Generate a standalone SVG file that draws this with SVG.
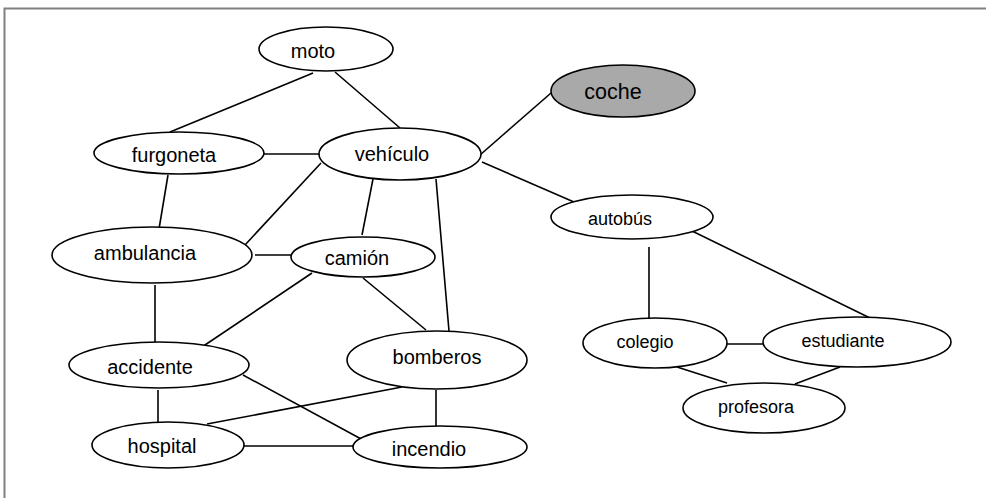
<svg xmlns="http://www.w3.org/2000/svg" width="986" height="498" viewBox="0 0 986 498">
<style>
.n ellipse{fill:#fff;stroke:#000;stroke-width:1.6}
.n text{font-family:"Liberation Sans",Arial,sans-serif;font-size:20px;text-anchor:middle;fill:#000}
.n text.s{font-size:18px}
#coche ellipse{fill:#a9a9a9}
#coche text{font-size:21.5px}
.e line{stroke:#000;stroke-width:1.6}
</style>
<rect width="986" height="498" fill="#fff"/>
<path d="M4.5 498 V8.5 H986" fill="none" stroke="#808080" stroke-width="2"/>
<g class="e">
<line x1="313" y1="73" x2="170" y2="132"/>
<line x1="335" y1="72" x2="400" y2="128"/>
<line x1="264" y1="154" x2="319" y2="154"/>
<line x1="168" y1="175" x2="159" y2="229"/>
<line x1="321" y1="163" x2="245" y2="245"/>
<line x1="373" y1="179" x2="362" y2="235"/>
<line x1="436" y1="179" x2="449" y2="331"/>
<line x1="480" y1="155" x2="551" y2="93"/>
<line x1="482" y1="162" x2="574" y2="202"/>
<line x1="255" y1="255" x2="291" y2="255"/>
<line x1="155" y1="285" x2="155" y2="343"/>
<line x1="312" y1="273" x2="202" y2="347"/>
<line x1="363" y1="278" x2="426" y2="330"/>
<line x1="158" y1="390" x2="158" y2="422"/>
<line x1="243" y1="375" x2="363" y2="440"/>
<line x1="402" y1="387" x2="207" y2="424"/>
<line x1="436" y1="390" x2="436" y2="426"/>
<line x1="243" y1="446" x2="354" y2="446"/>
<line x1="649" y1="247" x2="649" y2="318"/>
<line x1="690" y1="230" x2="870" y2="318"/>
<line x1="727" y1="344" x2="763" y2="344"/>
<line x1="677" y1="367" x2="727" y2="383"/>
<line x1="840" y1="367" x2="795" y2="384"/>
</g>
<g id="moto" class="n"><ellipse cx="326" cy="49" rx="67" ry="22"/><text x="313" y="58">moto</text></g>
<g id="furgoneta" class="n"><ellipse cx="179" cy="153" rx="85" ry="21"/><text x="174" y="162">furgoneta</text></g>
<g id="vehiculo" class="n"><ellipse cx="400" cy="154" rx="81" ry="26"/><text x="392" y="161">vehículo</text></g>
<g id="coche" class="n"><ellipse cx="623" cy="91" rx="72" ry="26"/><text x="613" y="99">coche</text></g>
<g id="autobus" class="n"><ellipse cx="632" cy="217" rx="81" ry="22"/><text class="s" x="620" y="225">autobús</text></g>
<g id="ambulancia" class="n"><ellipse cx="152" cy="255" rx="100" ry="28"/><text x="145" y="260">ambulancia</text></g>
<g id="camion" class="n"><ellipse cx="363" cy="257" rx="72" ry="20"/><text x="357" y="265">camión</text></g>
<g id="accidente" class="n"><ellipse cx="159" cy="365" rx="90" ry="23"/><text x="150" y="374">accidente</text></g>
<g id="bomberos" class="n"><ellipse cx="437" cy="360" rx="90" ry="29"/><text x="437" y="364">bomberos</text></g>
<g id="hospital" class="n"><ellipse cx="168" cy="445" rx="76" ry="23"/><text x="162" y="453">hospital</text></g>
<g id="incendio" class="n"><ellipse cx="440" cy="447" rx="87" ry="21"/><text x="429" y="456">incendio</text></g>
<g id="colegio" class="n"><ellipse cx="655" cy="343" rx="72" ry="25"/><text class="s" x="645" y="348">colegio</text></g>
<g id="estudiante" class="n"><ellipse cx="857" cy="342" rx="94" ry="25"/><text class="s" x="843" y="347">estudiante</text></g>
<g id="profesora" class="n"><ellipse cx="764" cy="408" rx="81" ry="25"/><text class="s" x="756" y="413">profesora</text></g>
</svg>
